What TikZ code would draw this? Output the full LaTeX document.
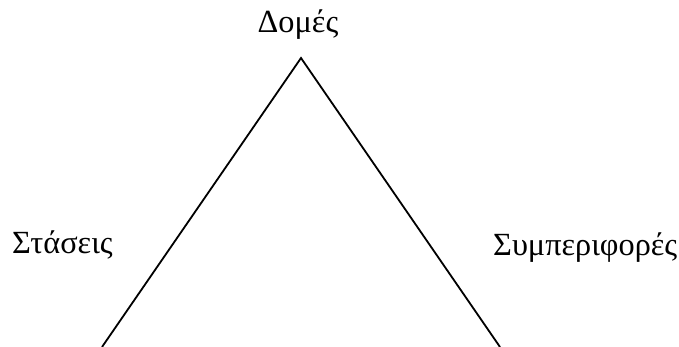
\documentclass[tikz,border=0pt]{standalone}
\usepackage{fontspec}
\setmainfont{Liberation Serif}
\usetikzlibrary{positioning}

\begin{document}
\begin{tikzpicture}[x=1pt,y=-1pt,every node/.style={font=\fontsize{32.3}{38}\selectfont,inner sep=0pt}]
\useasboundingbox (0,0) rectangle (679,347);
\coordinate (apex) at (301,58);
\coordinate (left) at (102,347);
\coordinate (right) at (500,347);
\node[anchor=base] (domes) at (298,33) {Δομές};
\node[anchor=base west] (staseis) at (12,253) {Στάσεις};
\node[anchor=base west] (symperifores) at (493,255) {Συμπεριφορές};
\draw[line width=1.8pt] (left) -- (apex) -- (right);
\end{tikzpicture}
\end{document}
